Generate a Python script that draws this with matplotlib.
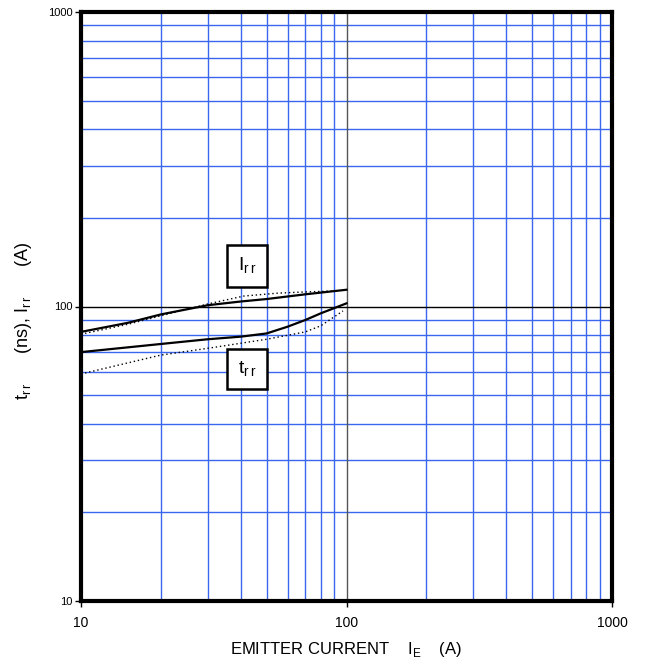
import matplotlib
matplotlib.use("Agg")
import matplotlib.pyplot as plt
import numpy as np
from matplotlib.ticker import FixedLocator

plt.rcParams['font.family'] = ['Liberation Sans', 'DejaVu Sans']
plt.rcParams['mathtext.fontset'] = 'custom'
plt.rcParams['mathtext.rm'] = 'Liberation Sans'

# Data
irr_x = [10, 15, 20, 30, 40, 50, 70, 100]
irr_y = [82, 88, 94, 101, 104, 106, 110, 114]
irr_fit_x = [10, 15, 20, 30, 41, 55, 69, 92]
irr_fit_y = [80.5, 87, 93, 102, 108.5, 111, 112, 113]
trr_x = [10, 20, 30, 40, 50, 60, 70, 80, 100]
trr_y = [70, 74.6, 77.4, 79, 81, 85.4, 90, 94.8, 102.5]
trr_fit_x = [10, 20, 30, 50, 70, 80, 90, 97]
trr_fit_y = [59, 68.4, 72.1, 77.4, 82, 86, 92.3, 96.6]

x_ticks = [10, 100, 1000]
y_ticks = [10, 100, 1000]

fig = plt.figure(figsize=(6.46, 6.68), dpi=100)
ax = fig.add_axes([81/646, 1-601/668, (612-81)/646, (601-12)/668])
ax.set_xscale('log')
ax.set_yscale('log')
ax.set_xlim(10, 1000)
ax.set_ylim(10, 1000)

# grid
minor = [m * d for d in (10, 100) for m in range(2, 10)]
for v in minor:
    ax.axvline(v, color='#3a66f0', lw=1.0, zorder=1)
    ax.axhline(v, color='#3a66f0', lw=1.0, zorder=1)
ax.axvline(100, color='#555555', lw=1.0, zorder=1.5)
ax.axhline(100, color='black', lw=1.0, zorder=1.5)

ax.plot(irr_x, irr_y, color='black', lw=1.6, zorder=3)
ax.plot(irr_fit_x, irr_fit_y, color='black', lw=1.0, ls=(0, (1, 2)), zorder=3)
ax.plot(trr_x, trr_y, color='black', lw=1.6, zorder=3)
ax.plot(trr_fit_x, trr_fit_y, color='black', lw=1.0, ls=(0, (1, 2)), zorder=3)

ax.text(42.3, 137, r'I$_{\rm r\,r}$', fontsize=14, ha='center', va='center', zorder=4,
        bbox=dict(boxstyle='square,pad=0.55', fc='white', ec='black', lw=1.8))
ax.text(42.3, 61.4, r't$_{\rm r\,r}$', fontsize=14, ha='center', va='center', zorder=4,
        bbox=dict(boxstyle='square,pad=0.55', fc='white', ec='black', lw=1.8))

ax.xaxis.set_major_locator(FixedLocator(x_ticks))
ax.yaxis.set_major_locator(FixedLocator(y_ticks))
ax.xaxis.set_minor_locator(FixedLocator([]))
ax.yaxis.set_minor_locator(FixedLocator([]))
ax.set_xticklabels([str(v) for v in x_ticks], fontsize=10)
ax.set_yticklabels([str(v) for v in y_ticks], fontsize=8)
ax.tick_params(axis='x', length=4, width=1, pad=7)
ax.tick_params(axis='y', length=4, width=1, pad=2)

for s in ax.spines.values():
    s.set_linewidth(3)
    s.set_zorder(5)

ax.set_xlabel(r'EMITTER CURRENT    I$_{\rm E}$    (A)', fontsize=12, labelpad=7)
ax.set_ylabel(r't$_{\rm r\,r}$      (ns), I$_{\rm r\,r}$      (A)', fontsize=13)
ax.yaxis.set_label_coords(-0.088, 0.475)

fig.savefig('out.png', dpi=100)
